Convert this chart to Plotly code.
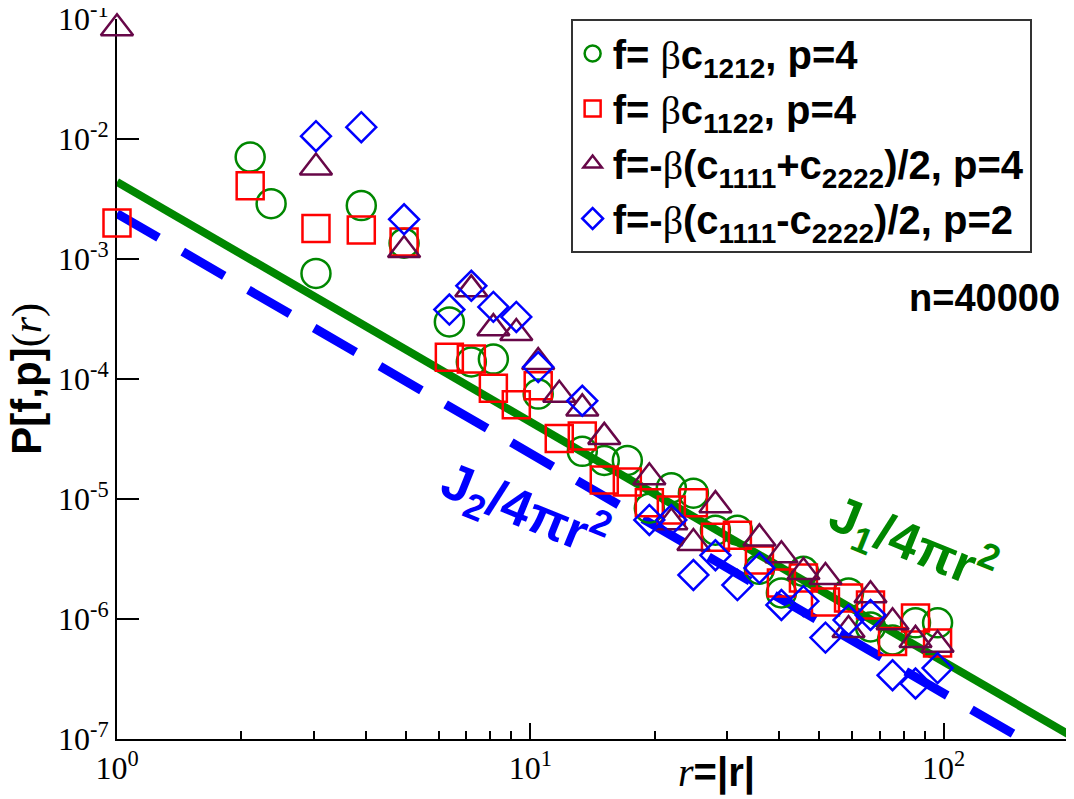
import plotly.graph_objects as go

# ------------------------------------------------------------
# Dati (r, P[f,p](r))
# ------------------------------------------------------------
circle_r = [2.10, 2.36, 3.03, 3.90, 4.95, 6.37, 7.20, 8.14, 10.45, 13.36, 15.10, 17.17, 19.41,
            21.94, 24.81, 28.05, 31.70, 35.84, 40.51, 45.80, 58.88, 66.55, 75.25, 85.51, 96.7]
circle_p = [7.1e-3, 2.9e-3, 7.6e-4, 2.8e-3, 1.36e-3, 3.0e-4, 1.39e-4, 1.47e-4, 7.5e-5, 2.5e-5, 2.1e-5,
            2.1e-5, 8.4e-6, 1.24e-5, 1.12e-5, 5.5e-6, 5.5e-6, 2.6e-6, 1.65e-6, 2.5e-6, 1.65e-6,
            8.6e-7, 6.7e-7, 9.3e-7, 9.3e-7]

square_r = [1.0, 2.10, 3.03, 3.90, 4.95, 6.37, 7.20, 8.14, 9.25, 10.45, 11.75, 13.36, 15.10, 17.17,
            19.41, 21.94, 24.81, 28.05, 31.70, 35.84, 40.51, 45.80, 51.78, 58.88, 66.55, 75.25,
            85.51, 96.7]
square_p = [2.0e-3, 4.1e-3, 1.8e-3, 1.75e-3, 1.39e-3, 1.52e-4, 1.47e-4, 8.4e-5, 6.1e-5, 8.8e-5,
            3.2e-5, 3.35e-5, 1.44e-5, 1.39e-5, 9.3e-6, 8.1e-6, 9.3e-6, 4.8e-6, 5.0e-6, 3.1e-6,
            2.0e-6, 2.2e-6, 1.39e-6, 1.5e-6, 1.31e-6, 6.5e-7, 1.02e-6, 6.3e-7]

triangle_r = [1.0, 3.03, 4.95, 7.20, 8.14, 9.25, 10.45, 11.75, 13.36, 15.10, 19.41, 21.94, 24.81,
              28.05, 35.84, 40.51, 45.80, 51.78, 58.88, 66.55, 75.25, 85.51, 96.7]
triangle_p = [8.4e-2, 5.8e-3, 1.19e-3, 5.6e-4, 2.66e-4, 2.42e-4, 1.39e-4, 7.4e-5, 5.7e-5, 3.3e-5,
              1.52e-5, 6.4e-6, 4.3e-6, 8.9e-6, 4.7e-6, 3.4e-6, 2.47e-6, 2.24e-6, 8.1e-7, 1.58e-6,
              9.4e-7, 6.7e-7, 6.1e-7]

diamond_r = [3.03, 3.90, 4.95, 6.37, 7.20, 8.14, 9.25, 10.45, 13.36, 19.41, 21.94, 24.81, 28.05,
             31.70, 35.84, 40.51, 45.80, 51.78, 58.88, 66.55, 75.25, 85.51, 96.7]
diamond_p = [1.06e-2, 1.26e-2, 2.15e-3, 3.8e-4, 6.0e-4, 4.0e-4, 3.3e-4, 1.26e-4, 6.6e-5, 6.7e-6,
             6.7e-6, 2.33e-6, 3.4e-6, 1.92e-6, 2.66e-6, 1.31e-6, 1.41e-6, 7.0e-7, 9.8e-7, 1.08e-6,
             3.4e-7, 2.9e-7, 3.9e-7]

# rette J/4πr^2 (estremi)
line_r = [1.0, 200.0]
j1_p = [4.4e-3, 1.1e-7]
j2_p = [2.4e-3, 6.0e-8]

BETA = "<span style='font-family:Liberation Serif;font-weight:normal'>β</span>"
series_names = [
    f"<b>f= {BETA}c<sub>1212</sub>, p=4</b>",
    f"<b>f= {BETA}c<sub>1122</sub>, p=4</b>",
    f"<b>f=-{BETA}(c<sub>1111</sub>+c<sub>2222</sub>)/2, p=4</b>",
    f"<b>f=-{BETA}(c<sub>1111</sub>-c<sub>2222</sub>)/2, p=2</b>",
]

y_tickvals = [1e-7, 1e-6, 1e-5, 1e-4, 1e-3, 1e-2, 1e-1]
y_ticktext = ["10<sup>-7</sup>", "10<sup>-6</sup>", "10<sup>-5</sup>", "10<sup>-4</sup>",
              "10<sup>-3</sup>", "10<sup>-2</sup>", "10<sup>-1</sup>"]
x_tickvals = [1, 10, 100]
x_ticktext = ["10<sup>0</sup>", "10<sup>1</sup>", "10<sup>2</sup>"]
x_minorvals = [2, 3, 4, 5, 6, 7, 8, 9, 20, 30, 40, 50, 60, 70, 80, 90, 200]

GREEN = "rgb(0,135,0)"
RED = "rgb(255,0,0)"
MAROON = "rgb(103,7,72)"
BLUE = "rgb(0,0,255)"
SANS = "Liberation Sans, Arial, sans-serif"
SERIF = "Liberation Serif, Times New Roman, serif"

fig = go.Figure()

# --- rette teoriche ---
fig.add_trace(go.Scatter(
    x=line_r, y=j2_p, mode="lines",
    line=dict(color=BLUE, width=9, dash="48px,28px"),
    showlegend=False, hoverinfo="skip"
))
fig.add_trace(go.Scatter(
    x=line_r, y=j1_p, mode="lines",
    line=dict(color=GREEN, width=8),
    showlegend=False, hoverinfo="skip"
))

# --- punti ---
serie = [
    (circle_r, circle_p, "circle-open", GREEN, 29),
    (square_r, square_p, "square-open", RED, 27),
    (triangle_r, triangle_p, "triangle-up-open", MAROON, 28),
    (diamond_r, diamond_p, "diamond-open", BLUE, 23),
]
for (xs, ys, sym, col, sz), nome in zip(serie, series_names):
    fig.add_trace(go.Scatter(
        x=xs, y=ys, mode="markers", name=nome,
        marker=dict(symbol=sym, size=sz, color=col, line=dict(color=col, width=2.5)),
        cliponaxis=False
    ))

# --- testi (ancore esplicite, altrimenti plotly le sposta) ---
annotations = [
    dict(text="<b>n=40000</b>", x=0.994, y=0.6125, xanchor="right", yanchor="middle",
         font=dict(family=SANS, size=38, color="black")),
    dict(text="<b>J<sub>1</sub>/4πr<sup>2</sup></b>", x=0.836, y=0.272, textangle=22,
         font=dict(family=SANS, size=52, color=GREEN)),
    dict(text="<b>J<sub>2</sub>/4πr<sup>2</sup></b>", x=0.429, y=0.318, textangle=22,
         font=dict(family=SANS, size=52, color=BLUE)),
    dict(text="<span style='font-family:Liberation Serif'><i>r</i></span><b>=|r|</b>",
         x=0.63, y=-0.046, font=dict(family=SANS, size=40, color="black")),
    dict(text="<b>P[f,p]</b><span style='font-family:Liberation Serif'>(<i>r</i>)</span>",
         x=-0.095, y=0.5, textangle=-90, font=dict(family=SANS, size=42, color="black")),
]
for a in annotations:
    a.setdefault("xanchor", "center")
    a.setdefault("yanchor", "middle")
    a.update(xref="paper", yref="paper", showarrow=False)

# la pagina ha 8px di margine nel body: figura ridotta e margini compensati
fig.update_layout(
    width=1066, height=791,
    margin=dict(l=109, r=6, t=11, b=60, autoexpand=False),
    paper_bgcolor="white", plot_bgcolor="white",
    showlegend=True,
    legend=dict(
        x=0.477, y=1.0, xanchor="left", yanchor="top",
        bgcolor="white", bordercolor="#333", borderwidth=2,
        font=dict(family=SANS, size=40, color="black"),
        itemsizing="trace", tracegroupgap=0
    ),
    annotations=annotations,
    xaxis=dict(
        type="log", range=[0, 2.301], automargin=False,
        showgrid=False, zeroline=False,
        showline=True, linecolor="black", linewidth=2,
        ticks="inside", ticklen=16, tickwidth=2, tickcolor="black",
        tickvals=x_tickvals, ticktext=x_ticktext,
        tickfont=dict(family=SERIF, size=32, color="black"),
        minor=dict(ticks="inside", ticklen=8, tickwidth=1.5, tickcolor="black", tickvals=x_minorvals),
        layer="below traces", ticklabeloverflow="allow"
    ),
    yaxis=dict(
        type="log", range=[-7, -0.998], automargin=False,
        showgrid=False, zeroline=False,
        showline=True, linecolor="black", linewidth=2,
        ticks="inside", ticklen=22, tickwidth=2, tickcolor="black",
        tickvals=y_tickvals, ticktext=y_ticktext,
        tickfont=dict(family=SERIF, size=32, color="black"),
        layer="below traces", ticklabeloverflow="allow"
    ),
)

fig.write_html("out.html")
